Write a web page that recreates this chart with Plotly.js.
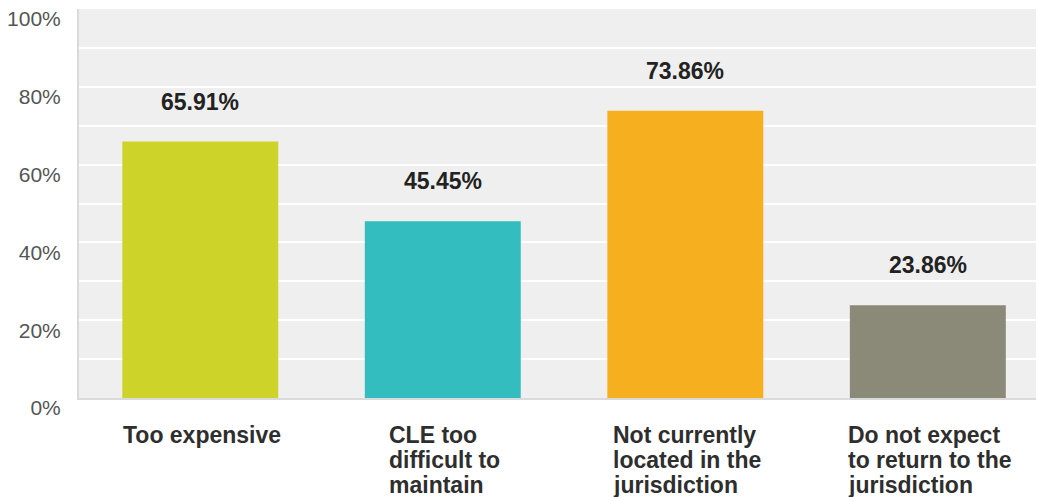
<!DOCTYPE html>
<html>
<head>
<meta charset="utf-8">
<script src="https://cdn.plot.ly/plotly-3.0.1.min.js"></script>
<style>html,body{margin:0;padding:0;background:#fff;}#chart{width:1037px;height:497px;}</style>
</head>
<body>
<div id="chart"></div>
<script>
const categories = [
  "Too expensive",
  "CLE too<br>difficult to<br>maintain",
  "Not currently<br>located in the<br>jurisdiction",
  "Do not expect<br>to return to the<br>jurisdiction"
];
const values = [65.91, 45.45, 73.86, 23.86];
const valueLabels = ["65.91%", "45.45%", "73.86%", "23.86%"];
const barColors = ["#CDD329", "#33BDBF", "#F5AF1F", "#8B8A78"];
const yTickVals = [0, 20, 40, 60, 80, 100];
const yTickText = ["0%", "20%", "40%", "60%", "80%", "100%"];

const xIdx = categories.map((c, i) => i);

const labelFont = "bold 23px 'Liberation Sans', Arial, sans-serif";
const canvas = document.createElement('canvas');
const ctx = canvas.getContext('2d');
ctx.font = labelFont;

const annotations = [];
values.forEach((v, i) => {
  annotations.push({
    x: i, y: v, xref: 'x', yref: 'y',
    text: '<b>' + valueLabels[i] + '</b>', showarrow: false,
    xanchor: 'center', yanchor: 'middle', yshift: 40,
    font: {family: "'Liberation Sans', Arial, sans-serif", size: 23, color: '#222'}
  });
});
categories.forEach((c, i) => {
  const lines = c.split('<br>');
  const w = Math.max(...lines.map(l => ctx.measureText(l).width));
  lines.forEach((l, j) => {
    annotations.push({
      x: i, y: 0, xref: 'x', yref: 'paper',
      text: '<b>' + l + '</b>', showarrow: false,
      xanchor: 'left', yanchor: 'middle', align: 'left',
      xshift: -w / 2, yshift: -37 - 25 * j,
      font: {family: "'Liberation Sans', Arial, sans-serif", size: 23, color: '#2e2e2e'}
    });
  });
});

const trace = {
  type: 'bar', x: xIdx, y: values,
  marker: {color: barColors, line: {width: 0}},
  width: 0.643, hoverinfo: 'none'
};

const layout = {
  width: 1037, height: 497,
  margin: {l: 79, r: 1, t: 9, b: 99, pad: 0},
  paper_bgcolor: '#ffffff', plot_bgcolor: '#EFEFEF',
  showlegend: false,
  xaxis: {
    type: 'linear', range: [-0.5, 3.446], showticklabels: false,
    showgrid: false, zeroline: false, ticks: '',
    showline: true, linecolor: '#DADADA', linewidth: 2
  },
  yaxis: {
    range: [0, 100], tickvals: yTickVals, ticktext: yTickText,
    showgrid: true, gridcolor: '#ffffff', gridwidth: 2,
    minor: {dtick: 10, showgrid: true, gridcolor: '#ffffff', gridwidth: 2, ticks: ''},
    zeroline: false, ticks: '', ticklabelstandoff: 12, ticklabelshift: 10,
    showline: true, linecolor: '#DADADA', linewidth: 2,
    tickfont: {family: "'Liberation Sans', Arial, sans-serif", size: 21, color: '#555'}
  },
  annotations: annotations
};

Plotly.newPlot('chart', [trace], layout, {displayModeBar: false, staticPlot: true});
</script>
</body>
</html>
